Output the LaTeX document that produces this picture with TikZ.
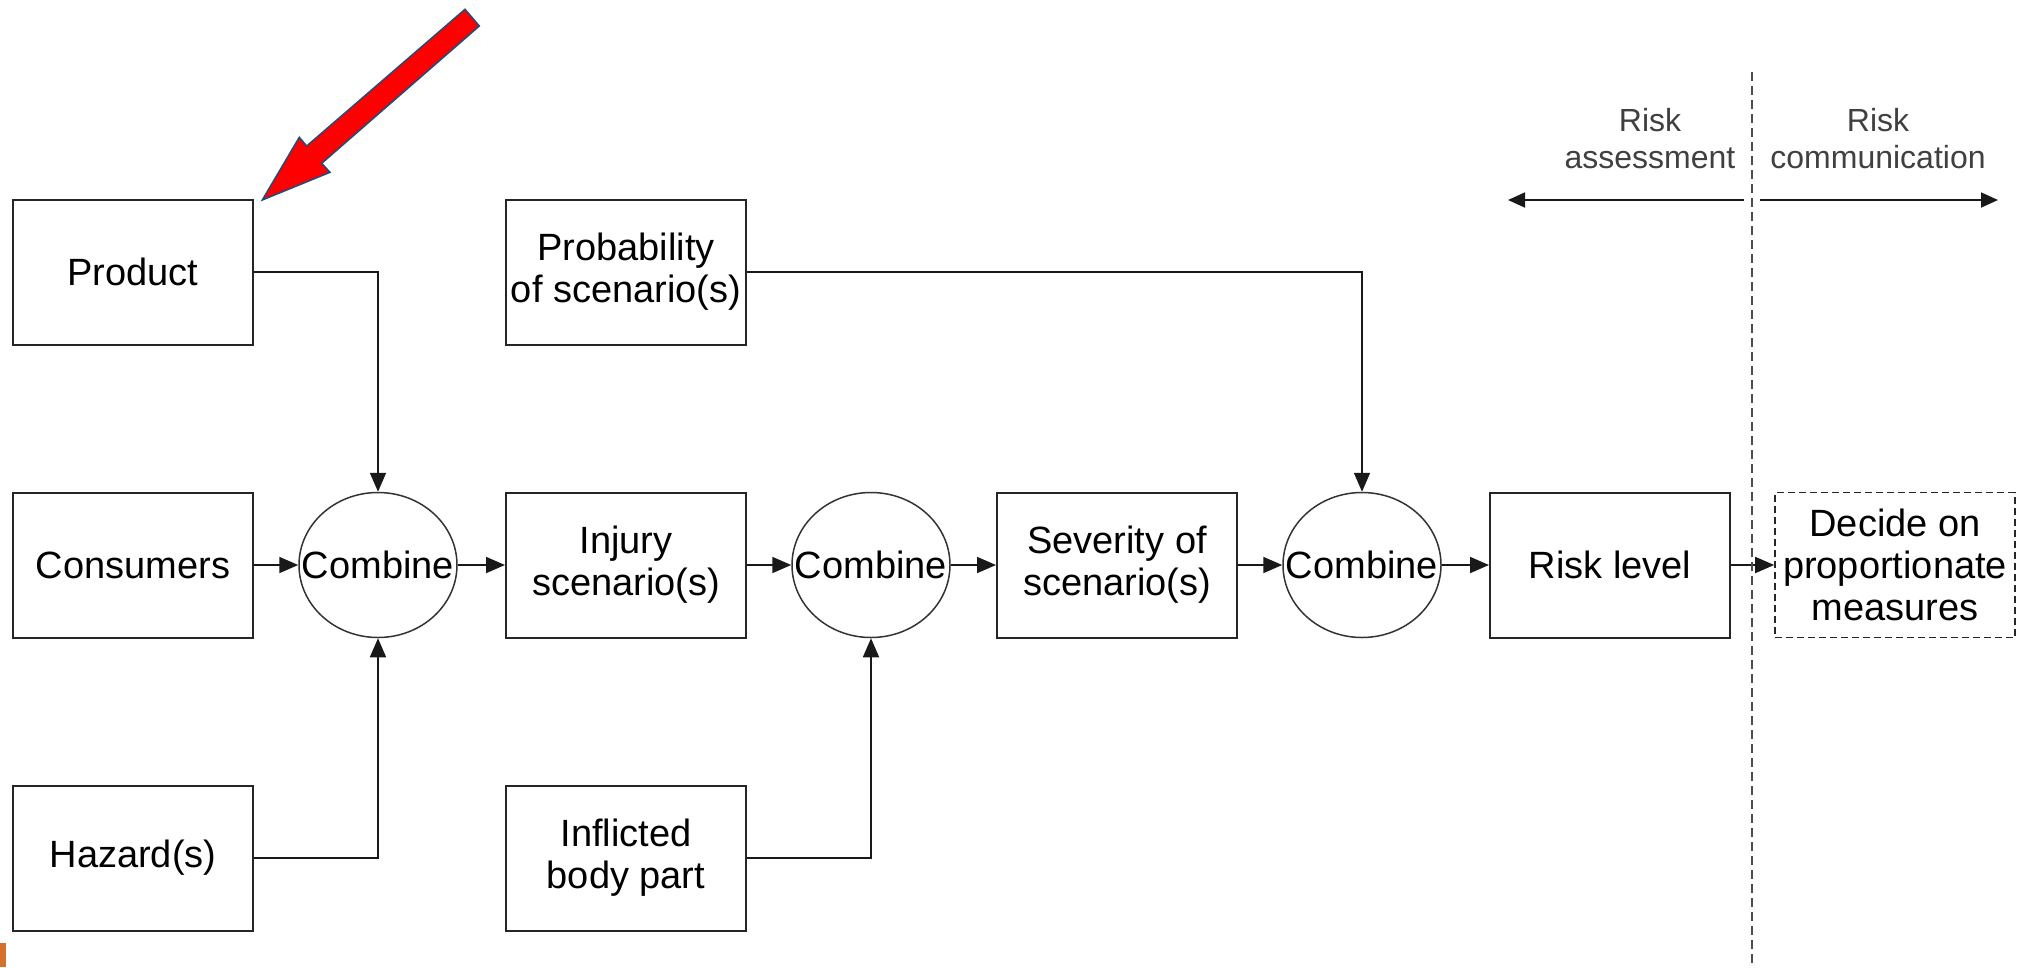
\documentclass[tikz,border=0pt]{standalone}
\usepackage{fontspec}
\setmainfont{Liberation Sans}
\usetikzlibrary{arrows.meta,shapes.geometric}
\definecolor{pointerred}{RGB}{255,0,0}
\definecolor{pointeredge}{RGB}{31,78,121}
\definecolor{orangebar}{RGB}{212,113,45}
\newcommand{\combtext}{\makebox[0pt]{Combine}}
\begin{document}
\begin{tikzpicture}[x=1pt,y=-1pt,
  box/.style={draw=black!85, line width=2pt, minimum width=240pt, minimum height=145pt,
    inner sep=0pt, align=center, font=\fontsize{38}{42}\selectfont},
  dbox/.style={box, dash pattern=on 7pt off 4pt, line width=1.6pt},
  comb/.style={ellipse, draw=black!80, line width=1.5pt, minimum width=158pt,
    minimum height=145pt, inner sep=0pt, font=\fontsize{38}{42}\selectfont},
  conn/.style={draw=black!90, line width=1.8pt, -{Triangle[length=19pt,width=16pt]}},
  span/.style={draw=black!90, line width=1.8pt, -{Triangle[length=17pt,width=15pt]}},
  divider/.style={draw=black!70, line width=1.6pt, dash pattern=on 9pt off 5pt},
  lbl/.style={align=center, text=black!75, font=\fontsize{32}{37}\selectfont},
]
\useasboundingbox (0,0) rectangle (2023,967);

% top row
\node[box] (product) at (133,272) {Product};
\node[box] (prob) at (626,272) {Probability\\of scenario(s)};

% main row
\node[box]  (consumers) at (133,565) {Consumers};
\node[comb] (c1)        at (378,565) {\combtext};
\node[box]  (injury)    at (626,565) {Injury\\scenario(s)};
\node[comb] (c2)        at (871,565) {\combtext};
\node[box]  (severity)  at (1117,565) {Severity of\\scenario(s)};
\node[comb] (c3)        at (1362,565) {\combtext};
\node[box]  (risk)      at (1610,565) {Risk level};
\node[dbox] (decide)    at (1895,565) {Decide on\\proportionate\\measures};

% bottom row
\node[box] (hazard)    at (133,858) {Hazard(s)};
\node[box] (inflicted) at (626,858) {Inflicted\\body part};

% connectors
\draw[conn] (product.east) -| (c1.north);
\draw[conn] (hazard.east) -| (c1.south);
\draw[conn] (consumers) -- (c1);
\draw[conn] (c1) -- (injury);
\draw[conn] (injury) -- (c2);
\draw[conn] (inflicted.east) -| (c2.south);
\draw[conn] (c2) -- (severity);
\draw[conn] (severity) -- (c3);
\draw[conn] (prob.east) -| (c3.north);
\draw[conn] (c3) -- (risk);
\draw[conn] (risk) -- (decide);

% assessment / communication divider
\coordinate (divtop) at (1752,72);
\coordinate (divbot) at (1752,967);
\draw[divider] (divtop) -- (divbot);

\node[lbl] (assess) at (1650,139) {Risk\\assessment};
\node[lbl] (commun) at (1878,139) {Risk\\communication};

\coordinate (aL0) at (1744,200);
\coordinate (aL1) at (1508,200);
\coordinate (aR0) at (1760,200);
\coordinate (aR1) at (1998,200);
\draw[span] (aL0) -- (aL1);
\draw[span] (aR0) -- (aR1);

% red pointer
\draw[fill=pointerred, draw=pointeredge, line width=1.5pt, line join=miter]
  (262.3,200) -- (299.3,137.3) -- (306.7,146) -- (465,9.3) -- (479.3,26)
  -- (321.7,163.3) -- (330,172.3) -- cycle;

% corner mark
\fill[orangebar] (0,943) rectangle (6,967);
\end{tikzpicture}
\end{document}
